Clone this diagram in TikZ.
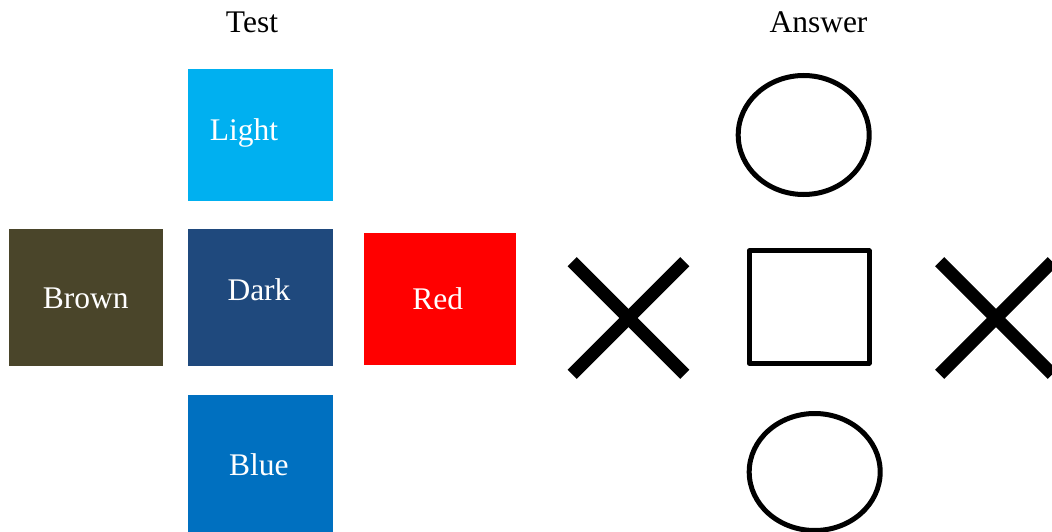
\documentclass[tikz,border=0pt]{standalone}
\usepackage{fontspec}
\setmainfont{Liberation Serif}
\usetikzlibrary{calc}
\definecolor{lightblue}{HTML}{00B0F0}
\definecolor{darkblue}{HTML}{1F497D}
\definecolor{midblue}{HTML}{0070C0}
\definecolor{olivebrown}{HTML}{4A452A}
\definecolor{pure red}{HTML}{FF0000}
\begin{document}
\begin{tikzpicture}[x=1pt,y=-1pt,
  tile/.style={draw=none, inner sep=0pt, outer sep=0pt, anchor=north west},
  tilelabel/.style={text=white, anchor=base, inner sep=0pt, font=\fontsize{31.5}{38}\selectfont},
  heading/.style={text=black, anchor=base, inner sep=0pt, font=\fontsize{31.5}{38}\selectfont},
  outline/.style={draw=black, line width=5pt},
  cross/.style={draw=black, line width=13pt, line cap=butt}]
\useasboundingbox (0,0) rectangle (1052,532);
\clip (0,0) rectangle (1052,532);

% column headings
\node[heading] (test) at (252,32.5) {Test};
\node[heading] (answer) at (818.5,33) {Answer};

% coloured test tiles
\node[tile, fill=lightblue, minimum width=144.6pt, minimum height=131.7pt] (light) at (188,69) {};
\node[tile, fill=olivebrown, minimum width=153.7pt, minimum height=136.7pt] (brown) at (9,229) {};
\node[tile, fill=darkblue, minimum width=144.6pt, minimum height=137pt] (dark) at (188,229) {};
\node[tile, fill=pure red, minimum width=152pt, minimum height=131.7pt] (red) at (363.8,233) {};
\node[tile, fill=midblue, minimum width=144.6pt, minimum height=140pt] (blue) at (188,395) {};

\node[tilelabel] (lightlbl) at (244,140) {Light};
\node[tilelabel] (brownlbl) at (85.8,308.3) {Brown};
\node[tilelabel] (darklbl) at (259,300.5) {Dark};
\node[tilelabel] (redlbl) at (437.7,309.3) {Red};
\node[tilelabel] (bluelbl) at (258.8,475) {Blue};

% answer symbols
\draw[outline] (803.7,135) ellipse [x radius=65.5, y radius=59.5];
\draw[outline, line join=round] (749.2,250.8) rectangle (869.2,363.2);
\draw[outline] (814.7,472) ellipse [x radius=65.5, y radius=58.5];

\coordinate (xa) at (628.5,318);
\draw[cross] ($(xa)+(-56.3,-56.3)$) -- ($(xa)+(56.3,56.3)$);
\draw[cross] ($(xa)+(56.3,-56.3)$) -- ($(xa)+(-56.3,56.3)$);
\coordinate (xb) at (996,318);
\draw[cross] ($(xb)+(-56.3,-56.3)$) -- ($(xb)+(56.3,56.3)$);
\draw[cross] ($(xb)+(56.3,-56.3)$) -- ($(xb)+(-56.3,56.3)$);
\end{tikzpicture}
\end{document}
